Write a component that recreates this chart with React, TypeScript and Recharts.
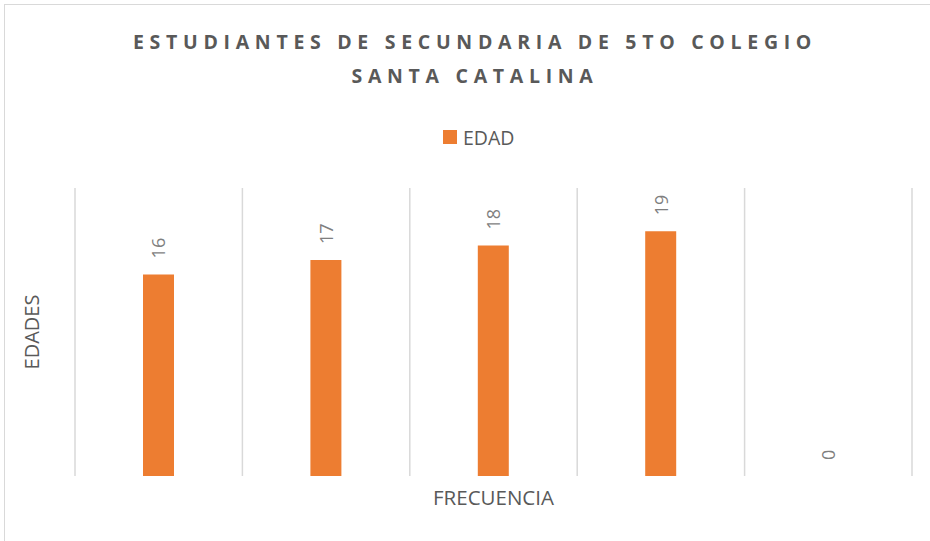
import { BarChart, Bar, XAxis, YAxis, CartesianGrid, Legend, LabelList } from 'recharts';

const categories = ['1', '2', '3', '4', '5'];
const edad = [16, 17, 18, 19, 0];
const yDomain: [number, number] = [2, 22];
const titleLines = ['ESTUDIANTES DE SECUNDARIA DE 5TO COLEGIO', 'SANTA CATALINA'];
const seriesName = 'EDAD';
const xTitle = 'FRECUENCIA';
const yTitle = 'EDADES';

const data = categories.map((c, i) => ({ cat: c, edad: edad[i] }));

const FONT = '"Open Sans", sans-serif';
const ORANGE = '#ED7D31';
const TEXT = '#595959';
const GRID = '#D9D9D9';

// rotated value label sitting just above the bar top
function BarLabel(props: any) {
    const vb = props.viewBox ?? props;
    const x = vb.x ?? props.x;
    const y = vb.y ?? props.y;
    const w = vb.width ?? props.width;
    const h = vb.height ?? props.height;
    const top = Math.min(y, y + h);
    const cx = x + w / 2;
    const ty = top - 16;
    return (
        <text
            x={cx}
            y={ty}
            transform={`rotate(-90 ${cx} ${ty})`}
            textAnchor="start"
            dominantBaseline="central"
            fontFamily={FONT}
            fontSize={18}
            fill="#7F7F7F"
        >
            {props.value}
        </text>
    );
}

function LegendBox() {
    return (
        <div style={{ position: 'relative', height: 63 }}>
            <div style={{ position: 'absolute', left: 443, top: 0, height: 24, display: 'flex', alignItems: 'center' }}>
                <span style={{ width: 14, height: 14, background: ORANGE, display: 'inline-block', marginRight: 6 }} />
                <span style={{ fontFamily: FONT, fontSize: 19.5, color: TEXT }}>{seriesName}</span>
            </div>
        </div>
    );
}

export default function App() {
    return (
        <div style={{ position: 'absolute', left: 0, top: 0, width: 930, height: 541, background: '#fff', overflow: 'hidden' }}>
            <div style={{ position: 'absolute', left: 4, top: 4, right: 0, bottom: 0, borderLeft: `1px solid ${GRID}`, borderTop: `1px solid ${GRID}` }} />
            {titleLines.map((line, i) => (
                <div
                    key={line}
                    style={{
                        position: 'absolute',
                        left: 0,
                        width: 950,
                        top: 25 + i * 34,
                        lineHeight: '34px',
                        textAlign: 'center',
                        fontFamily: FONT,
                        fontWeight: 700,
                        fontSize: 19.5,
                        letterSpacing: 5.7,
                        color: TEXT,
                        whiteSpace: 'nowrap',
                    }}
                >
                    {line}
                </div>
            ))}
            <BarChart width={930} height={541} data={data} margin={{ top: 125, right: 18, bottom: 0, left: 0 }}>
                <CartesianGrid
                    horizontal={false}
                    stroke={GRID}
                    strokeWidth={1.5}
                    verticalCoordinatesGenerator={({ offset }: any) =>
                        Array.from({ length: categories.length + 1 }, (_, i) => offset.left + (i * offset.width) / categories.length)
                    }
                />
                <Legend verticalAlign="top" content={() => <LegendBox />} />
                <XAxis
                    dataKey="cat"
                    tick={false}
                    tickLine={false}
                    axisLine={false}
                    height={65}
                    label={{
                        content: (p: any) => {
                            const vb = p.viewBox;
                            return (
                                <text x={vb.x + vb.width / 2} y={vb.y + 29} textAnchor="middle" fontFamily={FONT} fontSize={20.5} fill={TEXT}>
                                    {xTitle}
                                </text>
                            );
                        },
                    }}
                />
                <YAxis
                    type="number"
                    domain={yDomain}
                    allowDataOverflow
                    tick={false}
                    tickLine={false}
                    axisLine={false}
                    width={75}
                    label={{
                        content: (p: any) => {
                            const vb = p.viewBox;
                            const cx = 39;
                            const cy = vb.y + vb.height / 2;
                            return (
                                <text x={cx} y={cy} transform={`rotate(-90 ${cx} ${cy})`} textAnchor="middle" fontFamily={FONT} fontSize={20} fill={TEXT}>
                                    {yTitle}
                                </text>
                            );
                        },
                    }}
                />
                <Bar dataKey="edad" name={seriesName} fill={ORANGE} barSize={31} isAnimationActive={false}>
                    <LabelList dataKey="edad" content={BarLabel} />
                </Bar>
            </BarChart>
        </div>
    );
}
